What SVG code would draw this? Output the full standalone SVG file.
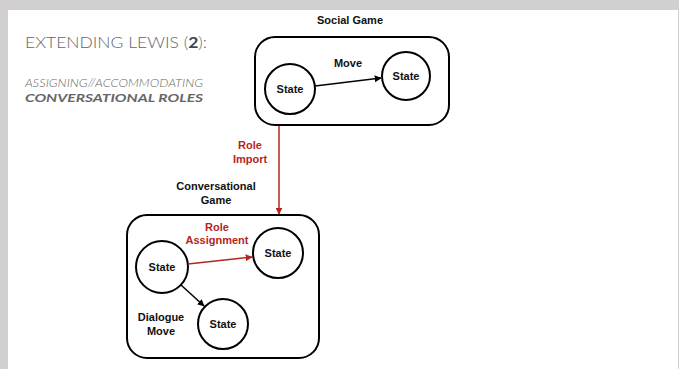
<svg xmlns="http://www.w3.org/2000/svg" width="679" height="369" viewBox="0 0 679 369">
<defs>
<style>
.lbl{font-family:"Liberation Sans",Arial,sans-serif;font-weight:bold;font-size:11px;fill:#111;text-anchor:middle}
.red{fill:#b3261e}
.box{fill:none;stroke:#000;stroke-width:2}
.st{fill:#fff;stroke:#000;stroke-width:2}
.ln{stroke:#000;stroke-width:1.5;fill:none}
.rln{stroke:#b3261e;stroke-width:1.5;fill:none}
.ttl{font-family:Lato,"Open Sans","Liberation Sans",sans-serif;fill:#666}
</style>
<marker id="ah" viewBox="0 0 10 10" refX="9" refY="5" markerWidth="7" markerHeight="7" markerUnits="userSpaceOnUse" orient="auto"><path d="M0,0 L10,5 L0,10 z" fill="#000"/></marker>
<marker id="ahr" viewBox="0 0 10 10" refX="9" refY="5" markerWidth="7" markerHeight="7" markerUnits="userSpaceOnUse" orient="auto"><path d="M0,0 L10,5 L0,10 z" fill="#b3261e"/></marker>
</defs>
<rect width="679" height="369" fill="#d1cfcf"/>
<rect x="8" y="10" width="670" height="359" fill="#fff"/>
<g id="title">
<text class="ttl" x="25" y="48" font-size="16" font-weight="300" textLength="182" lengthAdjust="spacingAndGlyphs">EXTENDING LEWIS (<tspan font-weight="bold" fill="#444">2</tspan>):</text>
<text class="ttl" x="25" y="87" font-size="11" font-style="italic" font-weight="300" fill="#555" textLength="178" lengthAdjust="spacingAndGlyphs">ASSIGNING//ACCOMMODATING</text>
<text class="ttl" x="25" y="102" font-size="12" font-style="italic" font-weight="bold" fill="#555" textLength="178" lengthAdjust="spacingAndGlyphs">CONVERSATIONAL ROLES</text>
</g>
<g id="social-game">
<text class="lbl" x="350" y="24">Social Game</text>
<rect class="box" x="255" y="37" width="194" height="88" rx="20"/>
<text class="lbl" x="348" y="67">Move</text>
</g>
<g id="sg-state1"><circle class="st" cx="290" cy="89" r="25"/><text class="lbl" x="290" y="93">State</text></g>
<g id="sg-state2"><circle class="st" cx="406" cy="76" r="24"/><text class="lbl" x="406" y="80">State</text></g>
<g id="conv-game">
<text class="lbl" x="216" y="190">Conversational</text>
<text class="lbl" x="216" y="204">Game</text>
<rect class="box" x="127" y="215" width="192" height="143" rx="20"/>
<text class="lbl red" x="217" y="231">Role</text>
<text class="lbl red" x="217" y="244">Assignment</text>
<text class="lbl" x="161" y="321">Dialogue</text>
<text class="lbl" x="161" y="335">Move</text>
</g>
<g id="cg-state1"><circle class="st" cx="162" cy="267" r="26"/><text class="lbl" x="162" y="271">State</text></g>
<g id="cg-state2"><circle class="st" cx="278" cy="253" r="25"/><text class="lbl" x="278" y="257">State</text></g>
<g id="cg-state3"><circle class="st" cx="223" cy="324" r="25"/><text class="lbl" x="223" y="328">State</text></g>
<g id="connectors">
<line class="ln" x1="315" y1="86" x2="381" y2="78" marker-end="url(#ah)"/>
<line class="rln" x1="279" y1="126" x2="279" y2="214" marker-end="url(#ahr)"/>
<text class="lbl red" x="250" y="149">Role</text>
<text class="lbl red" x="250" y="163">Import</text>
<line class="rln" x1="188" y1="264" x2="252" y2="257" marker-end="url(#ahr)"/>
<line class="ln" x1="181" y1="285" x2="204" y2="306" marker-end="url(#ah)"/>
</g>
</svg>
